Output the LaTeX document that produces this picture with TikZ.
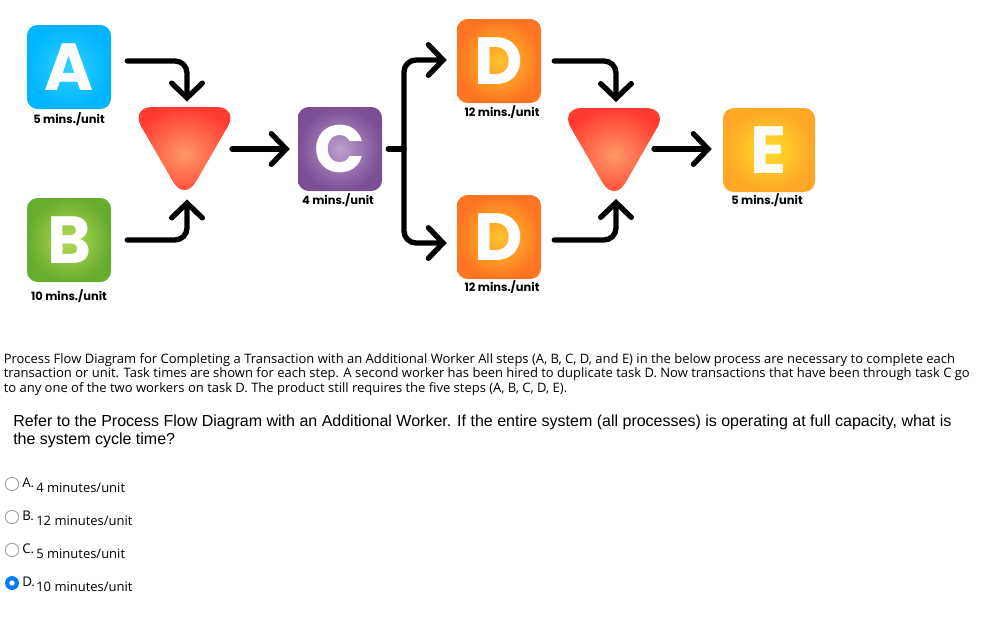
\documentclass[tikz,border=0pt]{standalone}
\usepackage{fontspec}
\setmainfont{Open Sans}
\newfontfamily\labelfont{Poppins}
\newfontfamily\askfont{Liberation Sans}
\usetikzlibrary{arrows.meta,shapes.geometric}
\definecolor{mergein}{HTML}{FF9866}
\definecolor{mergeout}{HTML}{FF3B30}
\definecolor{radioblue}{HTML}{0A7BF2}
\definecolor{Ain}{HTML}{33D2FF}
\definecolor{Aout}{HTML}{00B4FF}
\definecolor{Bin}{HTML}{B8DB55}
\definecolor{Bout}{HTML}{66AD2F}
\definecolor{Cin}{HTML}{BBA0CC}
\definecolor{Cout}{HTML}{7A4F96}
\definecolor{Din}{HTML}{FFC42E}
\definecolor{Dout}{HTML}{FF7521}
\definecolor{Ein}{HTML}{FFDD2B}
\definecolor{Eout}{HTML}{FFA726}
\tikzset{
        taskbox/.style 2 args={shade,inner color=#1,outer color=#2,rounded corners=8pt,minimum width=63pt,minimum height=63pt,inner sep=0pt,text=white,font=\labelfont\bfseries\fontsize{50}{50}\selectfont},
        mergebox/.style={shade,inner color=mergein,outer color=mergeout,regular polygon,regular polygon sides=3,shape border rotate=180,minimum size=94.5pt,inner sep=0pt,rounded corners=17pt},
        timelabel/.style={font=\labelfont\bfseries\fontsize{8.6}{10}\selectfont,inner sep=0pt},
        bodytext/.style={anchor=west,align=left,inner sep=0pt,font=\fontsize{9.75}{11.1}\selectfont},
        asktext/.style={anchor=west,align=left,inner sep=0pt,font=\askfont\fontsize{12}{13.5}\selectfont},
        letterlabel/.style={anchor=west,inner sep=0pt,font=\fontsize{10}{11}\selectfont},
        radiobox/.style={circle,draw=black!35,line width=.75pt,fill=white,minimum size=10pt,inner sep=0pt},
        flow/.style={line width=4pt,line cap=round,rounded corners=9pt,-{Straight Barb[length=11pt,width=23pt,line cap=round]}},
        stub/.style={line width=4pt,line cap=round}
}
\begin{document}
\begin{tikzpicture}[x=.75pt,y=-.75pt]
        \useasboundingbox (0,0) rectangle (999,632);
        % task boxes
        \node[taskbox={Ain}{Aout}] (A) at (69,67) {A};
        \node[taskbox={Bin}{Bout}] (B) at (69,240) {B};
        \node[taskbox={Cin}{Cout}] (C) at (340,149) {C};
        \node[taskbox={Din}{Dout}] (Dup) at (499,61) {D};
        \node[taskbox={Din}{Dout}] (Ddown) at (499,237) {D};
        \node[taskbox={Ein}{Eout},minimum width=69pt] (E) at (769,150) {E};
        \node[mergebox] (mergeL) at (184.5,138.5) {};
        \node[mergebox] (mergeR) at (614,139.5) {};
        % times
        \node[timelabel] (timeA) at (69,119.5) {5 mins./unit};
        \node[timelabel] (timeB) at (69,296.5) {10 mins./unit};
        \node[timelabel] (timeC) at (338,200.5) {4 mins./unit};
        \node[timelabel] (timeDup) at (502,112) {12 mins./unit};
        \node[timelabel] (timeDdown) at (502,287.5) {12 mins./unit};
        \node[timelabel] (timeE) at (767,200.5) {5 mins./unit};
        % connectors
        \coordinate (fork) at (404,149);
        \draw[flow] ([shift={(16,-6)}]A.east) -| ([shift={(2.5,-37)}]mergeL.center);
        \draw[flow] ([shift={(16,0)}]B.east) -| ([shift={(2.5,61)}]mergeL.center);
        \draw[flow] ([shift={(47.5,10.5)}]mergeL.center) -- ([shift={(-8,0)}]C.west);
        \draw[stub] ([shift={(6,0)}]C.east) -- (fork);
        \draw[flow] (fork) |- ([shift={(-10,-1)}]Dup.west);
        \draw[flow] (fork) |- ([shift={(-10,6)}]Ddown.west);
        \draw[flow] ([shift={(13,0)}]Dup.east) -| ([shift={(2,-37.5)}]mergeR.center);
        \draw[flow] ([shift={(13,3)}]Ddown.east) -| ([shift={(2,59.5)}]mergeR.center);
        \draw[flow] ([shift={(40,9.5)}]mergeR.center) -- ([shift={(-11,-1)}]E.west);
        % question text
        \node[bodytext] (intro) at (3.5,374.5) {Process Flow Diagram for Completing a Transaction with an Additional Worker All steps (A, B, C, D, and E) in the below process are necessary to complete each\\transaction or unit. Task times are shown for each step. A second worker has been hired to duplicate task D. Now transactions that have been through task C go\\to any one of the two workers on task D. The product still requires the five steps (A, B, C, D, E).};
        \node[asktext] (ask) at (13,431) {Refer to the Process Flow Diagram with an Additional Worker. If the entire system (all processes) is operating at full capacity, what is\\the system cycle time?};
        % answers
        \node[radiobox] (radioA) at (12,484) {};
        \node[radiobox] (radioB) at (12,517) {};
        \node[radiobox] (radioC) at (12,550) {};
        \node[circle,fill=radioblue,minimum size=10.5pt,inner sep=0pt] (radioD) at (12,583) {};
        \node[circle,fill=white,minimum size=4pt,inner sep=0pt] (radioDdot) at (12,583) {};
        \node[letterlabel] (letterA) at (22,482.5) {A.};
        \node[letterlabel] (letterB) at (22,515.5) {B.};
        \node[letterlabel] (letterC) at (22,548.5) {C.};
        \node[letterlabel] (letterD) at (22,581.5) {D.};
        \node[bodytext] (answerA) at (36,487.5) {4 minutes/unit};
        \node[bodytext] (answerB) at (36,520.5) {12 minutes/unit};
        \node[bodytext] (answerC) at (36,553.5) {5 minutes/unit};
        \node[bodytext] (answerD) at (36,586.5) {10 minutes/unit};
\end{tikzpicture}
\end{document}
